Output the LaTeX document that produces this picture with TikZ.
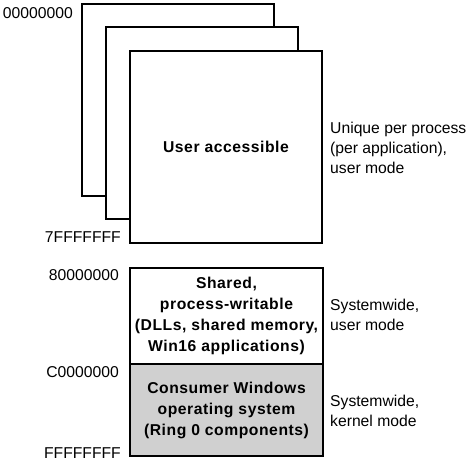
\documentclass[tikz,border=0pt]{standalone}
\usepackage{fontspec}
\setmainfont{Liberation Sans}
\newfontfamily\boldwide[LetterSpace=3.5]{Liberation Sans}
\definecolor{kgray}{RGB}{208,208,208}
\begin{document}
\begin{tikzpicture}[x=1pt,y=-1pt,
 page/.style={draw, line width=2pt, fill=white, minimum width=192pt, minimum height=192pt, anchor=north west, inner sep=0pt},
 seg/.style={draw, line width=2pt, minimum width=193pt, anchor=north west, inner sep=0pt, font=\boldwide\bfseries\fontsize{15.7}{21}\selectfont, align=center},
 addr/.style={anchor=east, inner sep=0pt, font=\fontsize{15.7}{20}\selectfont},
 desc/.style={anchor=west, inner sep=0pt, align=left, font=\fontsize{15.7}{20}\selectfont}]
\useasboundingbox (0,0) rectangle (475,463);
\node[page] (p1) at (81,3) {};
\node[page] (p2) at (105,26) {};
\node[page, font=\boldwide\bfseries\fontsize{15.7}{20}\selectfont] (p3) at (129,50) {User accessible};
\node[seg, minimum height=96pt, fill=white] (shared) at (129,267) {Shared,\\process-writable\\(DLLs, shared memory,\\Win16 applications)};
\node[seg, minimum height=92pt, fill=kgray] (kernel) at (129,363) {Consumer Windows\\operating system\\(Ring 0 components)};
\node[addr] (a0) at (73,13) {00000000};
\node[addr] (a7) at (121,237) {7FFFFFFF};
\node[addr] (a8) at (119,275) {80000000};
\node[addr] (aC) at (119,372) {C0000000};
\node[addr] (aF) at (121,453) {FFFFFFFF};
\node[desc] (d1) at (330,148) {Unique per process\\(per application),\\user mode};
\node[desc] (d2) at (330,315) {Systemwide,\\user mode};
\node[desc] (d3) at (330,411) {Systemwide,\\kernel mode};
\end{tikzpicture}
\end{document}
